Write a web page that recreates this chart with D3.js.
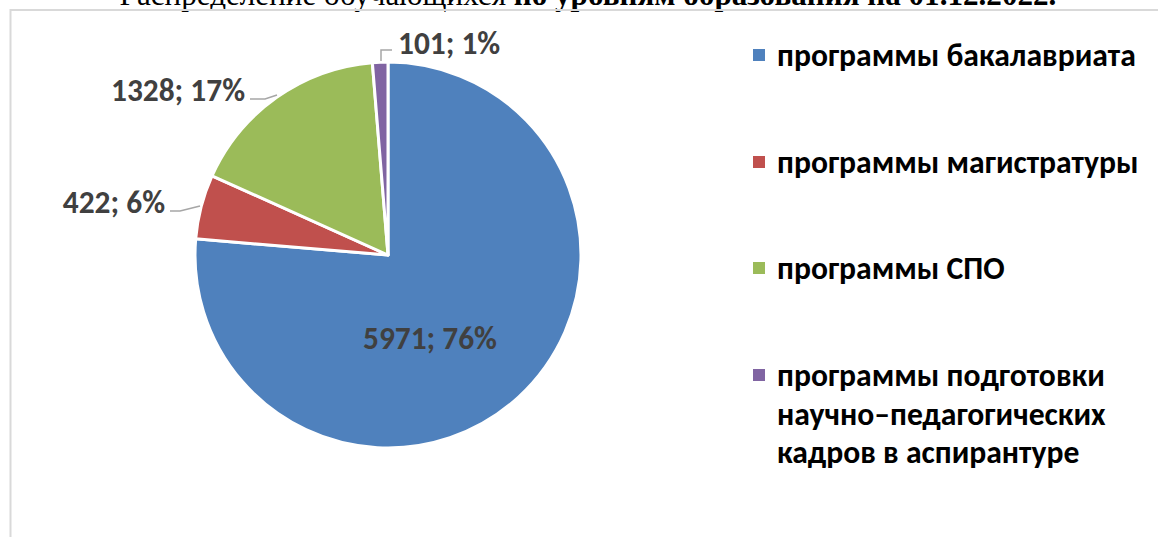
<!DOCTYPE html>
<html>
<head>
<meta charset="utf-8">
<script src="https://cdn.jsdelivr.net/npm/d3@7"></script>
<style>
  body { margin: 0; background: #fff; }
  svg { display: block; }
</style>
</head>
<body>
<script>
// data
const categories = ['программы бакалавриата', 'программы магистратуры', 'программы СПО', 'программы подготовки научно–педагогических кадров в аспирантуре'];
const values = [5971, 422, 1328, 101];
const percents = ['76%', '6%', '17%', '1%'];
const colors = ['#4f81bd', '#c0504d', '#9bbb59', '#8064a2'];
const legendLines = [
  ['программы бакалавриата'],
  ['программы магистратуры'],
  ['программы СПО'],
  ['программы подготовки', 'научно–педагогических', 'кадров в аспирантуре']
];

const width = 1158, height = 537;
const svg = d3.select('body').append('svg')
  .attr('width', width)
  .attr('height', height);

// shrink/grow a font so a text reaches the wanted width
function fitSize(sel, base, target) {
  const w = sel.node().getComputedTextLength();
  return base * target / w;
}

/* title, mostly above the top of the picture */
const title = svg.append('text')
  .attr('x', 588).attr('y', 5)
  .attr('text-anchor', 'middle')
  .style('font-family', '"Liberation Serif", "Times New Roman", serif')
  .style('font-size', '30px')
  .attr('fill', '#000');
title.append('tspan').text('Распределение обучающихся ');
title.append('tspan').attr('font-weight', 'bold').text('по уровням образования на 01.12.2022.');
title.style('font-size', fitSize(title, 30, 937) + 'px');

/* chart frame */
svg.append('rect')
  .attr('x', 10.5).attr('y', 10)
  .attr('width', 1200).attr('height', 600)
  .attr('fill', 'none')
  .attr('stroke', '#d9d9d9')
  .attr('stroke-width', 2);

/* pie */
const cx = 388, cy = 255, r = 193;
const pie = d3.pie().sort(null).value(d => d)(values);
const arc = d3.arc().innerRadius(0).outerRadius(r);

const g = svg.append('g').attr('transform', `translate(${cx},${cy})`);
g.selectAll('path.slice')
  .data(pie)
  .enter().append('path')
  .attr('class', 'slice')
  .attr('d', arc)
  .attr('fill', (d, i) => colors[i])
  .attr('stroke', '#fff')
  .attr('stroke-width', 3)
  .attr('stroke-linejoin', 'round');

/* data labels */
const labelFont = 'Calibri, Carlito, "Open Sans", sans-serif';
const labelPos = [
  { x: 42, y: 83, anchor: 'middle' },
  { x: -223, y: -53, anchor: 'end' },
  { x: -143, y: -165, anchor: 'end' },
  { x: 10, y: -212, anchor: 'start' }
];
const labels = g.selectAll('text.lbl')
  .data(pie)
  .enter().append('text')
  .attr('class', 'lbl')
  .attr('x', (d, i) => labelPos[i].x)
  .attr('y', (d, i) => labelPos[i].y)
  .attr('text-anchor', (d, i) => labelPos[i].anchor)
  .attr('dominant-baseline', 'central')
  .style('font-family', labelFont)
  .style('font-weight', 'bold')
  .style('font-size', '25px')
  .attr('fill', '#404040')
  .text((d, i) => `${values[i]}; ${percents[i]}`);
const labelSize = fitSize(labels.filter((d, i) => i === 0), 25, 134);
labels.style('font-size', labelSize + 'px');

/* leader lines */
const leaders = [
  null,
  [[-218, -44], [-208, -44], [-188, -49]],
  [[-138, -156], [-123, -156], [-111, -160]],
  [[-7, -194], [-7, -205], [4, -205]]
];
g.selectAll('path.leader')
  .data(leaders.filter(d => d))
  .enter().append('path')
  .attr('class', 'leader')
  .attr('d', d3.line())
  .attr('fill', 'none')
  .attr('stroke', '#a6a6a6')
  .attr('stroke-width', 1.5);

/* legend */
const legend = svg.append('g').attr('transform', 'translate(753,0)');
const legendY = [55, 162, 268, 375];
const lineGap = 38.5;
legendLines.forEach((lines, i) => {
  legend.append('rect')
    .attr('x', 0).attr('y', legendY[i] - 6)
    .attr('width', 12).attr('height', 12)
    .attr('fill', colors[i]);
  lines.forEach((t, j) => {
    legend.append('text')
      .attr('class', 'leg')
      .attr('x', 24).attr('y', legendY[i] + j * lineGap)
      .attr('dominant-baseline', 'central')
      .style('font-family', labelFont)
      .style('font-weight', 'bold')
      .style('font-size', '24px')
      .attr('fill', '#000')
      .text(t);
  });
});
const legTexts = legend.selectAll('text.leg');
const legSize = fitSize(legTexts.filter((d, i) => i === 0), 24, 359);
legTexts.style('font-size', legSize + 'px');
</script>
</body>
</html>
